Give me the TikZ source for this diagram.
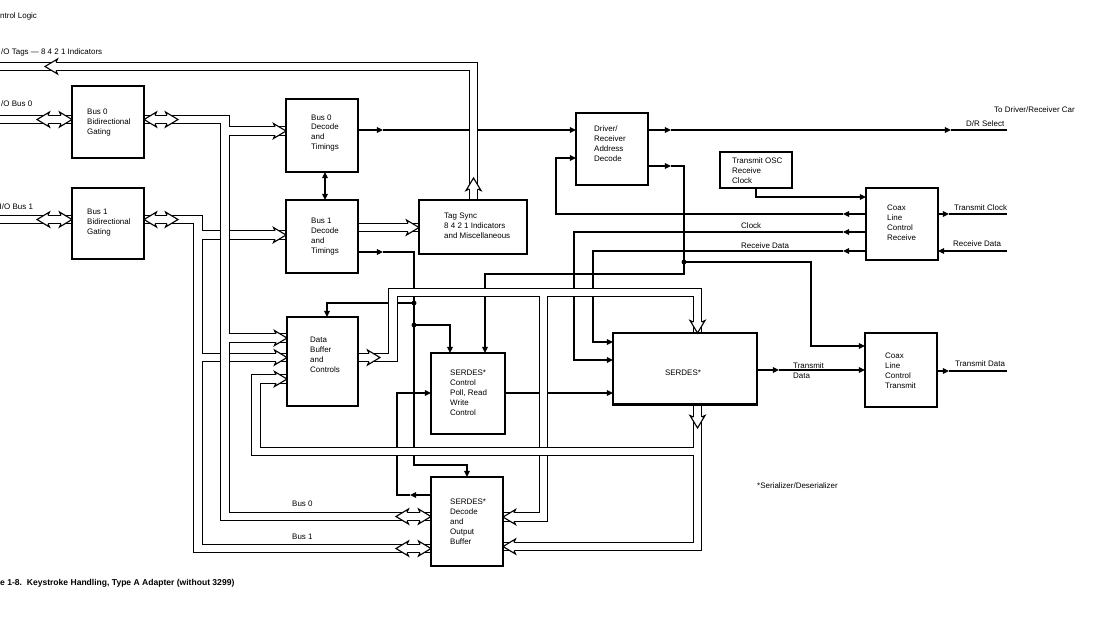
\documentclass[tikz,border=0pt]{standalone}
\usepackage{fontspec}
\setmainfont{Liberation Sans}
\usetikzlibrary{arrows.meta,fit}
\tikzset{
  hh/.pic={\draw[line width=0.95pt, fill=white, line join=miter] (-11,4.25) -- (-12.5,7.5) -- (0,0) -- (-12.5,-7.5) -- (-11,-4.25);},
  box/.style={draw, line width=1.05pt, inner sep=0pt},
  txt/.style={inner sep=0pt, align=left, anchor=west, font=\fontsize{6.8}{8.5}\selectfont},
  ln/.style={line width=0.95pt},
  ar/.style={ln, -{Triangle[length=5.2pt,width=4.8pt]}},
  dar/.style={ln, {Triangle[length=5.2pt,width=4.8pt]}-{Triangle[length=5.2pt,width=4.8pt]}},
  bo/.style={line width=8.18pt},
  bi/.style={line width=6.28pt, white},
  dot/.style={circle, fill, inner sep=0pt, minimum size=4.2pt},
}
\newcommand\busnet[1]{\draw[bo] #1; \draw[bi] #1;}
\begin{document}
\begin{tikzpicture}[x=0.03cm,y=-0.03cm]
\useasboundingbox (0,0) rectangle (1113,617);

% ---------- thin connectors ----------
\draw[ar] (358,130) -- (383,130);
\draw[ar] (383,130) -- (576,130);
\draw[ar] (648,130) -- (671,130);
\draw[ar] (671,130) -- (951,130);
\draw[ln] (951,130) -- (1007,130);
\draw[ar] (648,166) -- (671,166);
\draw[ar] (671,166) -- (684,166) -- (684,274) -- (485,274) -- (485,353);
\draw[ar] (684,262) -- (811,262) -- (811,346) -- (865,346);
\draw[ar] (756,188) -- (756,197) -- (866,197);
\draw[ar] (866,214) -- (843,214);
\draw[ar] (843,214) -- (556,214) -- (556,158) -- (576,158);
\draw[ar] (866,232) -- (843,232);
\draw[ar] (843,232) -- (574,232) -- (574,360) -- (613,360);
\draw[ar] (866,251) -- (843,251);
\draw[ar] (843,251) -- (593,251) -- (593,342) -- (613,342);
\draw[ar] (938,214) -- (949,214);
\draw[ln] (949,214) -- (1007,214);
\draw[ar] (1007,251) -- (938,251);
\draw[ar] (937,371) -- (949,371);
\draw[ln] (949,371) -- (1007,371);
\draw[ar] (757,370) -- (779,370);
\draw[ar] (779,370) -- (865,370);
\draw[ar] (505,393) -- (613,393);
\draw[ar] (358,252) -- (383,252);
\draw[ar] (383,252) -- (414,252) -- (414,465) -- (467,465) -- (467,477);
\draw[ar] (414,303) -- (327,303) -- (327,317);
\draw[ar] (414,325) -- (450,325) -- (450,353);
\draw[ar] (431,495) -- (410,495);
\draw[ar] (410,495) -- (397,495) -- (397,393) -- (431,393);
\draw[dar] (325,172) -- (325,200);

% ---------- buses ----------
\busnet{(473.5,200) -- (473.5,66.5) -- (0,66.5)}
\busnet{(0,119.5) -- (72,119.5)}
\busnet{(0,219.5) -- (72,219.5)}
\busnet{(358,227.5) -- (419,227.5)}
\busnet{(144,219.5) -- (198,219.5) -- (198,548.5) -- (431,548.5) (198,235) -- (286,235) (198,357.5) -- (287,357.5)}
\busnet{(144,119.5) -- (225,119.5) -- (225,516.5) -- (431,516.5) (225,131) -- (286,131) (225,338) -- (287,338)}
\busnet{(358,357.5) -- (393,357.5) -- (393,292.5) -- (697.5,292.5) -- (697.5,333) (543.5,292.5) -- (543.5,517) -- (503,517)}
\busnet{(697.5,405) -- (697.5,451.5) -- (256,451.5) -- (256,379) -- (287,379) (697.5,451.5) -- (697.5,546.5) -- (503,546.5)}

% ---------- boxes ----------
\node[box, fit={(72,86)(144,158)}] (g0) {};
\node[box, fit={(72,188)(144,259)}] (g1) {};
\node[box, fit={(286,99)(358,172)}] (d0) {};
\node[box, fit={(286,200)(358,273)}] (d1) {};
\node[box, fit={(419,200)(527,254)}] (ts) {};
\node[box, fit={(576,113)(648,185)}] (drv) {};
\node[box, fit={(720,152)(792,188)}] (osc) {};
\node[box, fit={(866,188)(938,260)}] (cxr) {};
\node[box, fit={(865,333)(937,407)}] (cxt) {};
\node[box, fit={(613,333)(757,405)}] (ser) {};
\node[box, fit={(287,317)(358,406)}] (dbuf) {};
\node[box, fit={(431,353)(505,434)}] (sctl) {};
\node[box, fit={(431,477)(503,566)}] (sdec) {};
\draw[line width=3pt] (613,404.5) -- (757,404.5);

% ---------- hollow arrowheads ----------
\pic[rotate=90] at (473.5,178) {hh};
\pic[rotate=180] at (45,66.5) {hh};
\pic[rotate=180] at (37,119.5) {hh};
\pic at (72,119.5) {hh};
\pic[rotate=180] at (37,219.5) {hh};
\pic at (72,219.5) {hh};
\pic[rotate=180] at (144,119.5) {hh};
\pic at (178,119.5) {hh};
\pic[rotate=180] at (144,219.5) {hh};
\pic at (178,219.5) {hh};
\pic at (286,131) {hh};
\pic at (287,338) {hh};
\pic[rotate=180] at (396,516.5) {hh};
\pic at (431,516.5) {hh};
\pic at (286,235) {hh};
\pic at (287,357.5) {hh};
\pic[rotate=180] at (396,548.5) {hh};
\pic at (431,548.5) {hh};
\pic at (419,227.5) {hh};
\pic at (380,357.5) {hh};
\pic[rotate=-90] at (697.5,333) {hh};
\pic[rotate=180] at (503,517) {hh};
\pic[rotate=-90] at (697.5,428) {hh};
\pic at (287,379) {hh};
\pic[rotate=180] at (503,546.5) {hh};

% ---------- junction dots ----------
\node[dot] (j1) at (684,262) {};
\node[dot] (j2) at (414,303) {};
\node[dot] (j3) at (414,325) {};

% ---------- box texts ----------
\node[txt] (t-g0) at (87,123) {Bus 0\\Bidirectional\\Gating};
\node[txt] (t-g1) at (87,223) {Bus 1\\Bidirectional\\Gating};
\node[txt] (t-d0) at (311,133) {Bus 0\\Decode\\and\\Timings};
\node[txt] (t-d1) at (311,237) {Bus 1\\Decode\\and\\Timings};
\node[txt] (t-ts) at (444,226) {Tag Sync\\8 4 2 1 Indicators\\and Miscellaneous};
\node[txt] (t-drv) at (594,144) {Driver/\\Receiver\\Address\\Decode};
\node[txt] (t-osc) at (732,170.5) {Transmit OSC\\Receive\\Clock};
\node[txt] (t-cxr) at (887,223) {Coax\\Line\\Control\\Receive};
\node[txt] (t-cxt) at (885,370.5) {Coax\\Line\\Control\\Transmit};
\node[txt, anchor=center] (t-ser) at (683,373) {SERDES*};
\node[txt] (t-dbuf) at (310,355) {Data\\Buffer\\and\\Controls};
\node[txt] (t-sctl) at (450,392.5) {SERDES*\\Control\\Poll, Read\\Write\\Control};
\node[txt] (t-sdec) at (450,522) {SERDES*\\Decode\\and\\Output\\Buffer};

% ---------- other labels ----------
\node[txt] (l1) at (0,16) {ntrol Logic};
\node[txt] (l2) at (1,52) {/O Tags --- 8 4 2 1 Indicators};
\node[txt] (l3) at (1,104) {/O Bus 0};
\node[txt] (l4) at (-0.5,207) {I/O Bus 1};
\node[txt] (l5) at (741,226) {Clock};
\node[txt] (l6) at (741,246) {Receive Data};
\node[txt] (l7) at (793,371) {Transmit\\Data};
\node[txt] (l8) at (994,110) {To Driver/Receiver Car};
\node[txt] (l9) at (966,124) {D/R Select};
\node[txt] (l10) at (954,208) {Transmit Clock};
\node[txt] (l11) at (953,244) {Receive Data};
\node[txt] (l12) at (955,364) {Transmit Data};
\node[txt] (l13) at (757,486) {*Serializer/Deserializer};
\node[txt] (l14) at (292,504) {Bus 0};
\node[txt] (l15) at (292,537) {Bus 1};
\node[txt, font=\fontsize{7.3}{9}\selectfont\bfseries] (cap) at (0,583) {e 1-8.~~Keystroke Handling, Type A Adapter (without 3299)};
\end{tikzpicture}
\end{document}
